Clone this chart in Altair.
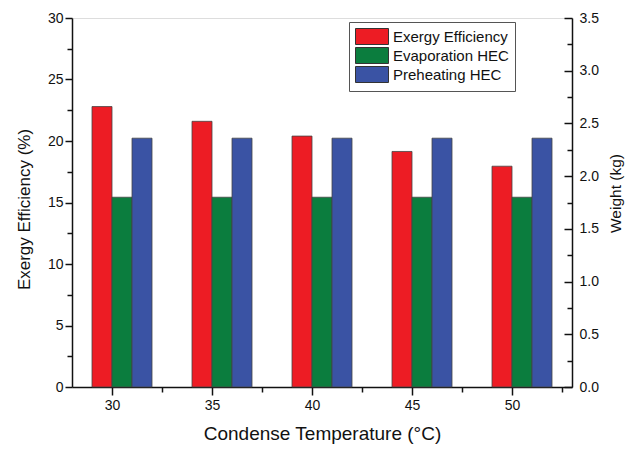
import altair as alt
import pandas as pd

temps = [30, 35, 40, 45, 50]
exergy_eff = [22.8, 21.6, 20.4, 19.15, 17.95]
evap_weight = [1.80, 1.80, 1.80, 1.80, 1.80]
preheat_weight = [2.36, 2.36, 2.36, 2.36, 2.36]
series_names = ["Exergy Efficiency", "Evaporation HEC", "Preheating HEC"]
colors = ["#ED1C24", "#0B7D3E", "#3A53A4"]

x_ticks = [30, 32.5, 35, 37.5, 40, 42.5, 45, 47.5, 50, 52.5]
left_ticks = [0, 2.5, 5, 7.5, 10, 12.5, 15, 17.5, 20, 22.5, 25, 27.5, 30]
right_major = [0, 0.5, 1.0, 1.5, 2.0, 2.5, 3.0, 3.5]
right_minor = [0.25, 0.75, 1.25, 1.75, 2.25, 2.75, 3.25]

rows = []
for i, t in enumerate(temps):
    rows.append({"temp": t, "series": series_names[0], "idx": 0, "value": exergy_eff[i]})
    rows.append({"temp": t, "series": series_names[1], "idx": 1, "value": evap_weight[i]})
    rows.append({"temp": t, "series": series_names[2], "idx": 2, "value": preheat_weight[i]})
df = pd.DataFrame(rows)

base = alt.Chart(df).transform_calculate(
    x0="datum.temp - 1 + datum.idx", x1="datum.temp + datum.idx"
)

x_enc = alt.X(
    "x0:Q",
    scale=alt.Scale(domain=[28, 53], nice=False, zero=False),
    axis=alt.Axis(
        values=x_ticks,
        labelExpr="datum.value % 5 === 0 ? format(datum.value, 'd') : ''",
        title="Condense Temperature (°C)",
        titleFontSize=19,
        grid=False,
        tickSize={"condition": {"test": "datum.value % 5 === 0", "value": 8}, "value": 5},
        labelPadding=3,
        titlePadding=12,
    ),
)

color_enc = alt.Color(
    "series:N",
    scale=alt.Scale(domain=series_names, range=colors),
    legend=alt.Legend(
        title=None,
        orient="none",
        legendX=277,
        legendY=4,
        strokeColor="#555",
        fillColor="white",
        padding=6,
        symbolType="M-1,-1H3.125V1H-1Z",
        symbolSize=256,
        symbolStrokeColor="#333",
        symbolStrokeWidth=1,
        symbolOpacity=1,
        labelFontSize=15,
        labelOffset=21,
        rowPadding=-3,
        labelColor="#111",
    ),
)

right_scale = alt.Scale(domain=[0, 3.5], nice=False)

left = base.transform_filter(
    alt.datum.series == series_names[0]
).mark_bar(stroke="#444", strokeWidth=0.8).encode(
    x=x_enc,
    x2="x1:Q",
    y=alt.Y(
        "value:Q",
        scale=alt.Scale(domain=[0, 30], nice=False),
        axis=alt.Axis(
            orient="left",
            values=left_ticks,
            labelExpr="datum.value % 5 === 0 ? format(datum.value, 'd') : ''",
            title="Exergy Efficiency (%)",
            titleY=191,
            grid=False,
            tickSize={"condition": {"test": "datum.value % 5 === 0", "value": 7}, "value": 5},
            labelPadding=2,
            titlePadding=14,
        ),
    ),
    y2=alt.datum(0),
    color=color_enc,
)

right = base.transform_filter(
    alt.datum.series != series_names[0]
).mark_bar(stroke="#444", strokeWidth=0.8).encode(
    x=alt.X("x0:Q"),
    x2="x1:Q",
    y=alt.Y(
        "value:Q",
        scale=right_scale,
        axis=alt.Axis(
            orient="right",
            values=right_major,
            format=".1f",
            ticks=False,
            title="Weight (kg)",
            titleAngle=270,
            titleBaseline="top",
            titleFontSize=15.5,
            titleY=175,
            grid=False,
            labelPadding=7,
            titlePadding=10,
        ),
    ),
    y2=alt.datum(0),
    color=color_enc,
)

right_major_ticks = base.transform_filter(
    alt.datum.series != series_names[0]
).mark_bar(opacity=0).encode(
    x=alt.X("x0:Q"),
    x2="x1:Q",
    y=alt.Y(
        "value:Q",
        scale=right_scale,
        axis=alt.Axis(
            orient="right",
            offset=-8,
            values=right_major,
            domain=False,
            labels=False,
            title=None,
            grid=False,
            tickSize=8,
        ),
    ),
    y2=alt.datum(0),
)

right_minor_ticks = base.transform_filter(
    alt.datum.series != series_names[0]
).mark_bar(opacity=0).encode(
    x=alt.X("x0:Q"),
    x2="x1:Q",
    y=alt.Y(
        "value:Q",
        scale=right_scale,
        axis=alt.Axis(
            orient="right",
            offset=-5,
            values=right_minor,
            domain=False,
            labels=False,
            title=None,
            grid=False,
            tickSize=5,
        ),
    ),
    y2=alt.datum(0),
)

chart = alt.layer(left, right, right_major_ticks, right_minor_ticks).resolve_scale(
    y="independent"
).properties(
    width=500,
    height=369,
    autosize=alt.AutoSizeParams(type="none"),
    padding={"left": 72, "top": 18, "right": 57, "bottom": 63},
).configure_view(stroke=None).configure(
    font="Liberation Sans"
).configure_axis(
    domainColor="#111",
    domainWidth=1.5,
    tickColor="#111",
    tickWidth=1.5,
    labelFontSize=14,
    labelColor="#111",
    titleFontSize=17,
    titleFontWeight="normal",
    titleColor="#111",
)

chart.save("out.html", embed_options={"renderer": "svg", "actions": False})
